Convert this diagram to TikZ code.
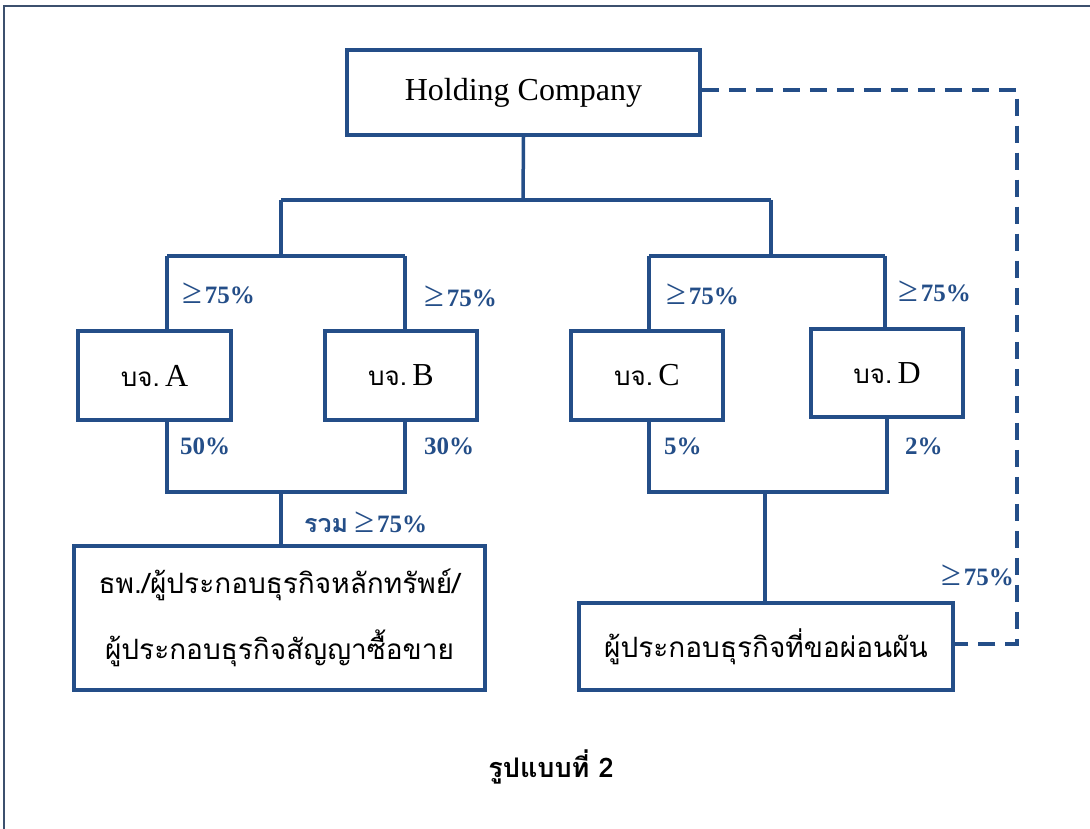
\documentclass[tikz,border=0pt]{standalone}
\usepackage{fontspec}
\setmainfont{Liberation Serif}
\newfontfamily\thai[Script=Thai]{Loma}
\definecolor{dblue}{RGB}{36,78,136}
\definecolor{frame}{RGB}{60,80,110}
\begin{document}
\begin{tikzpicture}[x=1pt,y=-1pt,
  box/.style={draw=dblue, line width=3.5pt, inner sep=0pt, fill=white, align=center},
  conn/.style={draw=dblue, line width=3.5pt},
  dconn/.style={draw=dblue, line width=3.5pt, dash pattern=on 17pt off 10pt},
  lbl/.style={text=dblue, anchor=west, inner sep=0pt, font=\bfseries\fontsize{25}{27}\selectfont},
  boxfont/.style={font=\fontsize{32}{36}\selectfont},
  thaifont/.style={font=\thai\fontsize{28}{66}\selectfont}
]
\useasboundingbox (0,0) rectangle (1090,829);
\fill[white] (0,0) rectangle (1090,829);
\draw[frame, line width=2pt] (4,840) -- (4,6) -- (1100,6);

% boxes
\node[box, boxfont, minimum width=353pt, minimum height=85pt] (hold) at (523.5,92.5) {Holding Company};
\node[box, boxfont, minimum width=153pt, minimum height=89pt] (A) at (154.5,375.5) {{\thai\fontsize{26}{30}\selectfont บจ.}\,A};
\node[box, boxfont, minimum width=152pt, minimum height=89pt] (B) at (401,375.5) {{\thai\fontsize{26}{30}\selectfont บจ.}\,B};
\node[box, boxfont, minimum width=152pt, minimum height=89pt] (C) at (647,375.5) {{\thai\fontsize{26}{30}\selectfont บจ.}\,C};
\node[box, boxfont, minimum width=152pt, minimum height=88pt] (D) at (887,373) {{\thai\fontsize{26}{30}\selectfont บจ.}\,D};
\node[box, thaifont, minimum width=411pt, minimum height=144pt] (big) at (279.5,618) {ธพ./ผู้ประกอบธุรกิจหลักทรัพย์/\\ผู้ประกอบธุรกิจสัญญาซื้อขาย};
\node[box, thaifont, minimum width=374pt, minimum height=87pt] (R) at (766,646.5) {ผู้ประกอบธุรกิจที่ขอผ่อนผัน};

% junction coordinates
\coordinate (j0) at (523,200);
\coordinate (jL) at (281,200);
\coordinate (jR) at (771,200);
\coordinate (kL) at (281,256);
\coordinate (kR) at (771,256);
\coordinate (aA) at (167,256);
\coordinate (aB) at (405,256);
\coordinate (aC) at (649,256);
\coordinate (aD) at (885,256);
\coordinate (bA) at (167,492);
\coordinate (bB) at (405,492);
\coordinate (m1) at (281,492);
\coordinate (bC) at (649,492);
\coordinate (bD) at (887,492);
\coordinate (m2) at (765,492);
\coordinate (d1) at (1017,90);
\coordinate (d2) at (1017,644);

% connectors
\draw[conn] (hold.south) -- (j0);
\draw[conn] (jL) -- (jR);
\draw[conn] (jL) -- (kL);
\draw[conn] (jR) -- (kR);
\draw[conn] (aA) -- (aB);
\draw[conn] (aC) -- (aD);
\draw[conn] (aA) -- (aA |- A.north);
\draw[conn] (aB) -- (aB |- B.north);
\draw[conn] (aC) -- (aC |- C.north);
\draw[conn] (aD) -- (aD |- D.north);
\draw[conn] (bA |- A.south) -- (bA) -- (bB) -- (bB |- B.south);
\draw[conn] (bC |- C.south) -- (bC) -- (bD) -- (bD |- D.south);
\draw[conn] (m1) -- (m1 |- big.north);
\draw[conn] (m2) -- (m2 |- R.north);
\draw[dconn] (hold.east |- d1) -- (d1) -- (d2) -- (d2 -| R.east);

% labels
\newcommand{\gesym}{{\mdseries\fontsize{36}{36}\selectfont ≥}\kern3pt}
\node[lbl] (lA) at (182,293) {\gesym 75\%};
\node[lbl] (lB) at (424,296) {\gesym 75\%};
\node[lbl] (lC) at (666,294) {\gesym 75\%};
\node[lbl] (lD) at (898,291) {\gesym 75\%};
\node[lbl] (pA) at (180,446) {50\%};
\node[lbl] (pB) at (424,446) {30\%};
\node[lbl] (pC) at (664,446) {5\%};
\node[lbl] (pD) at (905,446) {2\%};
\node[lbl] (sum) at (304,522) {{\thai รวม} \gesym 75\%};
\node[lbl] (lR) at (941,575) {\gesym 75\%};

\node[font=\thai\bfseries\fontsize{27}{30}\selectfont, inner sep=0pt] (cap) at (551,767) {รูปแบบที่ 2};
\end{tikzpicture}
\end{document}
